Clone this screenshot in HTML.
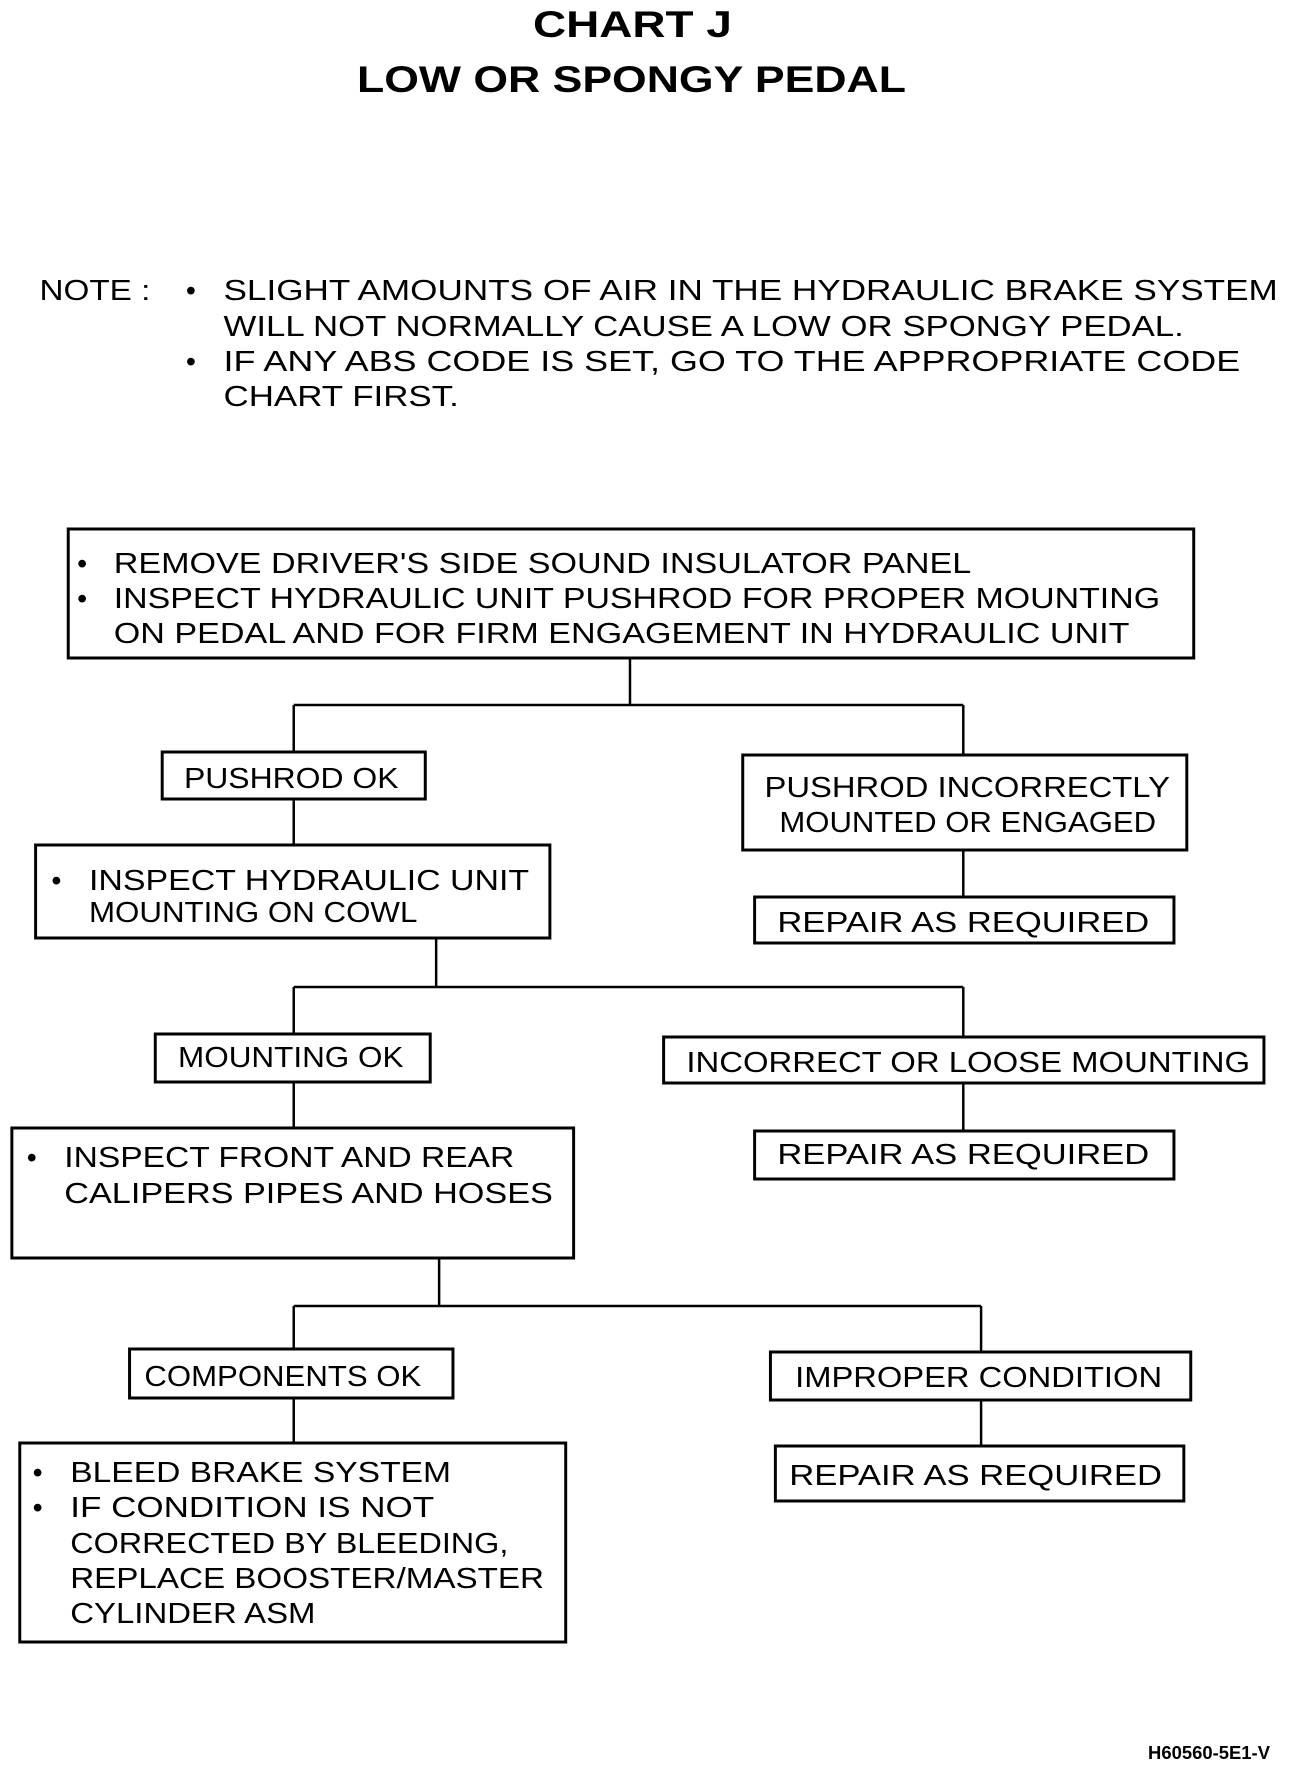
<!DOCTYPE html>
<html><head><meta charset="utf-8"><style>
html,body{margin:0;padding:0;background:#fff;}
svg{display:block;}
text{font-family:"Liberation Sans",sans-serif;fill:#000;}
.t{font-size:29px;}
.n{font-size:29px;}
.b{font-weight:bold;font-size:37px;}
</style></head><body>
<svg width="1296" height="1766" viewBox="0 0 1296 1766" xmlns="http://www.w3.org/2000/svg">
<g transform="scale(0.989,1)">
<g fill="none" stroke="#000">
<rect x="69" y="529" width="1138" height="129" stroke-width="3"/>
<rect x="164" y="752" width="266" height="47" stroke-width="3"/>
<rect x="751" y="755" width="449" height="95" stroke-width="3"/>
<rect x="36" y="845" width="520" height="93" stroke-width="3"/>
<rect x="763" y="897" width="424" height="46" stroke-width="3"/>
<rect x="157" y="1034" width="278" height="48" stroke-width="3"/>
<rect x="671" y="1037" width="607" height="46" stroke-width="3"/>
<rect x="763" y="1131" width="424" height="48" stroke-width="3"/>
<rect x="12" y="1128" width="568" height="130" stroke-width="3"/>
<rect x="131" y="1349" width="327" height="49" stroke-width="3"/>
<rect x="779" y="1352" width="425" height="48" stroke-width="3"/>
<rect x="784" y="1446" width="413" height="55" stroke-width="3"/>
<rect x="20" y="1443" width="552" height="199" stroke-width="3"/>
<g stroke-width="2.5">
<path d="M637 658V705M297 705H974M297 705V752M974 705V755M974 850V897M297 799V845"/>
<path d="M441 938V987M297 987H974M297 987V1034M974 987V1037M974 1083V1131M297 1082V1128"/>
<path d="M444 1258V1306M297 1306H992M297 1306V1349M992 1306V1352M992 1400V1446M297 1398V1443"/>
</g>
</g>
<text class="b" x="539" y="37" textLength="201" lengthAdjust="spacingAndGlyphs">CHART J</text>
<text class="b" x="361" y="92" textLength="555" lengthAdjust="spacingAndGlyphs">LOW OR SPONGY PEDAL</text>

<text class="n" x="40" y="300" textLength="112" lengthAdjust="spacingAndGlyphs">NOTE :</text>
<text class="n" x="188" y="300">•</text>
<text class="n" x="226" y="300" textLength="1066" lengthAdjust="spacingAndGlyphs">SLIGHT AMOUNTS OF AIR IN THE HYDRAULIC BRAKE SYSTEM</text>
<text class="n" x="226" y="336" textLength="971" lengthAdjust="spacingAndGlyphs">WILL NOT NORMALLY CAUSE A LOW OR SPONGY PEDAL.</text>
<text class="n" x="188" y="371">•</text>
<text class="n" x="226" y="371" textLength="1028" lengthAdjust="spacingAndGlyphs">IF ANY ABS CODE IS SET, GO TO THE APPROPRIATE CODE</text>
<text class="n" x="226" y="406" textLength="238" lengthAdjust="spacingAndGlyphs">CHART FIRST.</text>

<text class="t" x="78" y="573">•</text>
<text class="t" x="115" y="573" textLength="867" lengthAdjust="spacingAndGlyphs">REMOVE DRIVER'S SIDE SOUND INSULATOR PANEL</text>
<text class="t" x="78" y="608">•</text>
<text class="t" x="115" y="608" textLength="1058" lengthAdjust="spacingAndGlyphs">INSPECT HYDRAULIC UNIT PUSHROD FOR PROPER MOUNTING</text>
<text class="t" x="115" y="643" textLength="1027" lengthAdjust="spacingAndGlyphs">ON PEDAL AND FOR FIRM ENGAGEMENT IN HYDRAULIC UNIT</text>

<text class="t" x="186" y="788" textLength="217" lengthAdjust="spacingAndGlyphs">PUSHROD OK</text>
<text class="t" x="773" y="797" textLength="410" lengthAdjust="spacingAndGlyphs">PUSHROD INCORRECTLY</text>
<text class="t" x="788" y="832" textLength="381" lengthAdjust="spacingAndGlyphs">MOUNTED OR ENGAGED</text>
<text class="t" x="52" y="890">•</text>
<text class="t" x="90" y="890" textLength="445" lengthAdjust="spacingAndGlyphs">INSPECT HYDRAULIC UNIT</text>
<text class="t" x="90" y="922" textLength="332" lengthAdjust="spacingAndGlyphs">MOUNTING ON COWL</text>
<text class="t" x="786" y="932" textLength="376" lengthAdjust="spacingAndGlyphs">REPAIR AS REQUIRED</text>

<text class="t" x="180" y="1067" textLength="228" lengthAdjust="spacingAndGlyphs">MOUNTING OK</text>
<text class="t" x="694" y="1072" textLength="570" lengthAdjust="spacingAndGlyphs">INCORRECT OR LOOSE MOUNTING</text>
<text class="t" x="786" y="1164" textLength="376" lengthAdjust="spacingAndGlyphs">REPAIR AS REQUIRED</text>
<text class="t" x="27" y="1167">•</text>
<text class="t" x="65" y="1167" textLength="455" lengthAdjust="spacingAndGlyphs">INSPECT FRONT AND REAR</text>
<text class="t" x="65" y="1203" textLength="494" lengthAdjust="spacingAndGlyphs">CALIPERS PIPES AND HOSES</text>

<text class="t" x="146" y="1386" textLength="280" lengthAdjust="spacingAndGlyphs">COMPONENTS OK</text>
<text class="t" x="804" y="1387" textLength="371" lengthAdjust="spacingAndGlyphs">IMPROPER CONDITION</text>
<text class="t" x="798" y="1485" textLength="377" lengthAdjust="spacingAndGlyphs">REPAIR AS REQUIRED</text>
<text class="t" x="33" y="1482">•</text>
<text class="t" x="71" y="1482" textLength="385" lengthAdjust="spacingAndGlyphs">BLEED BRAKE SYSTEM</text>
<text class="t" x="33" y="1517">•</text>
<text class="t" x="71" y="1517" textLength="368" lengthAdjust="spacingAndGlyphs">IF CONDITION IS NOT</text>
<text class="t" x="71" y="1553" textLength="443" lengthAdjust="spacingAndGlyphs">CORRECTED BY BLEEDING,</text>
<text class="t" x="71" y="1588" textLength="479" lengthAdjust="spacingAndGlyphs">REPLACE BOOSTER/MASTER</text>
<text class="t" x="71" y="1623" textLength="248" lengthAdjust="spacingAndGlyphs">CYLINDER ASM</text>
</g>
<text x="1148" y="1759" style="font-weight:bold;font-size:18px" textLength="122" lengthAdjust="spacingAndGlyphs">H60560-5E1-V</text>
</svg>
</body></html>
